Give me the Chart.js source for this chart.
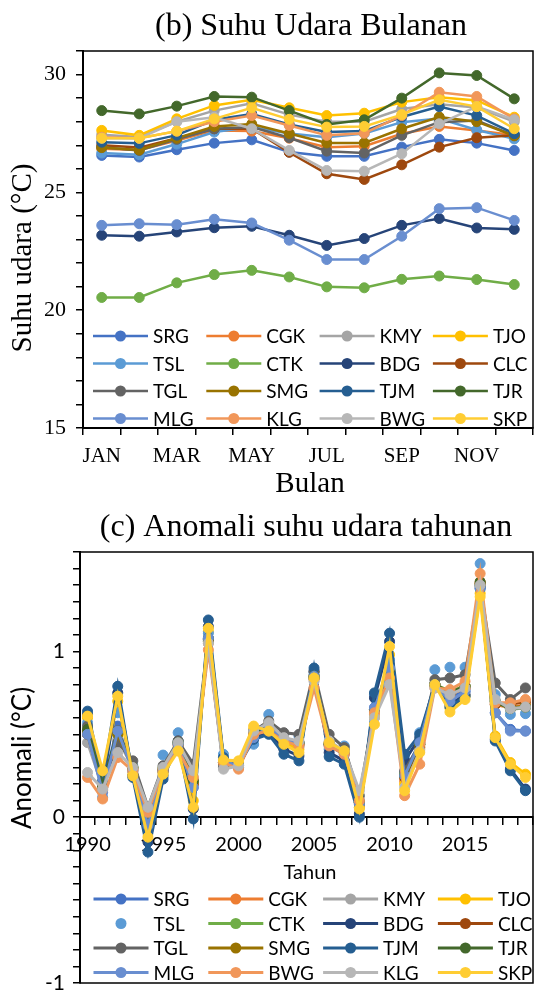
<!DOCTYPE html>
<html>
<head>
<meta charset="utf-8">
<script src="https://cdn.jsdelivr.net/npm/chart.js@4.4.1/dist/chart.umd.min.js"></script>
<style>
  html, body { margin: 0; padding: 0; background: #fff; }
  #wrap { position: relative; width: 539px; height: 990px; }
  .panel { position: absolute; left: 0; width: 539px; }
</style>
</head>
<body>
<div id="wrap">
  <div class="panel" style="top:0;height:500px"><canvas id="monthlyChart"></canvas></div>
  <div class="panel" style="top:500px;height:490px"><canvas id="annualChart"></canvas></div>
</div>
<script>
// station codes and Excel-style colours (series order)
const colors = ['#4472C4', '#ED7D31', '#A5A5A5', '#FFC000', '#5B9BD5', '#70AD47', '#264478', '#9E480E',
                '#636363', '#997300', '#255E91', '#43682B', '#698ED0', '#F1975A', '#B7B7B7', '#FFCD33'];
const stationsB = ['SRG', 'CGK', 'KMY', 'TJO', 'TSL', 'CTK', 'BDG', 'CLC', 'TGL', 'SMG', 'TJM', 'TJR', 'MLG', 'KLG', 'BWG', 'SKP'];
const stationsC = ['SRG', 'CGK', 'KMY', 'TJO', 'TSL', 'CTK', 'BDG', 'CLC', 'TGL', 'SMG', 'TJM', 'TJR', 'MLG', 'BWG', 'KLG', 'SKP'];

// (b) monthly air temperature
const months = ['JAN', 'FEB', 'MAR', 'APR', 'MAY', 'JUN', 'JUL', 'AUG', 'SEP', 'OCT', 'NOV', 'DEC'];
const tempSRG = [26.57, 26.50, 26.81, 27.09, 27.23, 26.71, 26.53, 26.53, 26.92, 27.25, 27.09, 26.78];
const tempCGK = [26.85, 26.80, 27.20, 27.63, 27.60, 27.30, 26.92, 26.96, 27.49, 27.80, 27.63, 27.42];
const tempKMY = [27.45, 27.35, 28.00, 28.47, 28.78, 28.30, 28.00, 28.00, 28.54, 28.74, 28.60, 28.00];
const tempTJO = [27.63, 27.42, 28.12, 28.69, 28.93, 28.59, 28.26, 28.36, 28.83, 29.04, 28.90, 28.19];
const tempTSL = [26.67, 26.60, 27.05, 27.56, 27.77, 27.50, 27.34, 27.50, 27.98, 28.13, 27.65, 27.27];
const tempCTK = [20.54, 20.54, 21.16, 21.51, 21.69, 21.41, 20.99, 20.95, 21.31, 21.45, 21.30, 21.09];
const tempBDG = [23.18, 23.14, 23.32, 23.50, 23.56, 23.18, 22.75, 23.04, 23.60, 23.89, 23.49, 23.43];
const tempCLC = [27.00, 26.90, 27.30, 27.70, 27.70, 26.70, 25.79, 25.55, 26.17, 26.92, 27.32, 27.42];
const tempTGL = [26.92, 26.78, 27.25, 27.70, 27.77, 27.32, 26.75, 26.67, 27.42, 27.98, 28.05, 27.42];
const tempSMG = [26.90, 26.80, 27.30, 27.80, 27.90, 27.50, 27.10, 27.10, 27.70, 28.20, 28.00, 27.40];
const tempTJM = [27.13, 27.08, 27.43, 28.08, 28.33, 27.88, 27.56, 27.60, 28.20, 28.64, 28.26, 27.49];
const tempTJR = [28.47, 28.33, 28.66, 29.07, 29.04, 28.47, 27.88, 28.08, 29.00, 30.07, 29.96, 28.97];
const tempMLG = [23.60, 23.67, 23.63, 23.86, 23.70, 22.97, 22.15, 22.15, 23.14, 24.31, 24.35, 23.81];
const tempKLG = [27.34, 27.30, 27.60, 28.00, 28.26, 27.84, 27.42, 27.51, 28.26, 29.25, 29.07, 28.12];
const tempBWG = [27.30, 27.30, 28.00, 28.19, 27.70, 26.78, 25.93, 25.90, 26.64, 27.91, 28.64, 28.08];
const tempSKP = [27.30, 27.30, 27.60, 28.12, 28.59, 28.10, 27.77, 27.80, 28.30, 28.93, 28.64, 27.70];

// (c) annual anomaly 1990-2019
const years = ['1990', '1991', '1992', '1993', '1994', '1995', '1996', '1997', '1998', '1999',
               '2000', '2001', '2002', '2003', '2004', '2005', '2006', '2007', '2008', '2009',
               '2010', '2011', '2012', '2013', '2014', '2015', '2016', '2017', '2018', '2019'];
const anomSRG = [0.52, 0.18, 0.55, 0.28, -0.05, 0.27, 0.44, 0.18, 1.08, 0.33, 0.31, 0.49, 0.55, 0.45, 0.43, 0.85, 0.43, 0.38, 0.06, 0.66, 0.92, 0.27, 0.45, 0.80, 0.72, 0.76, 1.40, 0.63, 0.53, 0.52];
const anomCGK = [0.50, 0.16, 0.50, 0.29, 0.00, 0.28, 0.43, 0.20, 1.05, 0.32, 0.30, 0.50, 0.54, 0.46, 0.44, 0.83, 0.44, 0.39, 0.08, 0.64, 0.88, 0.22, 0.42, 0.79, 0.74, 0.78, 1.42, 0.68, 0.66, 0.68];
const anomKMY = [0.45, 0.18, 0.47, 0.30, 0.02, 0.29, 0.44, 0.24, 1.06, 0.31, 0.31, 0.51, 0.56, 0.47, 0.45, 0.84, 0.45, 0.40, 0.10, 0.62, 0.85, 0.24, 0.42, 0.80, 0.75, 0.79, 1.41, 0.70, 0.65, 0.66];
const anomTJO = [0.60, 0.26, 0.70, 0.26, -0.08, 0.27, 0.42, 0.10, 1.12, 0.35, 0.33, 0.53, 0.53, 0.45, 0.41, 0.85, 0.44, 0.39, 0.06, 0.60, 0.98, 0.20, 0.41, 0.80, 0.66, 0.73, 1.35, 0.49, 0.33, 0.26];
const anomTSL = [0.57, 0.12, 0.63, 0.31, -0.02, 0.375, 0.51, 0.21, 1.11, 0.38, 0.30, 0.44, 0.62, 0.50, 0.49, 0.87, 0.41, 0.43, 0.10, 0.74, 0.95, 0.35, 0.51, 0.89, 0.905, 0.905, 1.53, 0.74, 0.62, 0.625];
const anomCTK = [0.50, 0.20, 0.50, 0.30, 0.00, 0.30, 0.45, 0.22, 1.06, 0.33, 0.31, 0.50, 0.55, 0.47, 0.45, 0.84, 0.44, 0.40, 0.09, 0.64, 0.88, 0.26, 0.44, 0.80, 0.76, 0.79, 1.40, 0.70, 0.655, 0.665];
const anomBDG = [0.62, 0.20, 0.75, 0.25, -0.15, 0.25, 0.46, 0.05, 1.15, 0.35, 0.31, 0.48, 0.52, 0.41, 0.37, 0.88, 0.39, 0.34, 0.02, 0.72, 1.06, 0.34, 0.48, 0.80, 0.68, 0.74, 1.39, 0.47, 0.29, 0.17];
const anomCLC = [0.50, 0.17, 0.52, 0.29, -0.02, 0.28, 0.44, 0.20, 1.07, 0.33, 0.30, 0.50, 0.55, 0.46, 0.44, 0.84, 0.44, 0.39, 0.08, 0.65, 0.88, 0.24, 0.43, 0.80, 0.74, 0.78, 1.41, 0.68, 0.68, 0.70];
const anomTGL = [0.55, 0.20, 0.45, 0.34, 0.06, 0.31, 0.46, 0.32, 1.07, 0.30, 0.32, 0.52, 0.58, 0.51, 0.50, 0.88, 0.50, 0.42, 0.13, 0.65, 0.86, 0.28, 0.44, 0.83, 0.84, 0.86, 1.40, 0.81, 0.71, 0.78];
const anomSMG = [0.52, 0.19, 0.50, 0.30, 0.01, 0.29, 0.45, 0.22, 1.07, 0.33, 0.31, 0.51, 0.56, 0.47, 0.45, 0.85, 0.45, 0.40, 0.09, 0.65, 0.88, 0.25, 0.44, 0.80, 0.75, 0.79, 1.41, 0.69, 0.66, 0.67];
const anomTJM = [0.64, 0.22, 0.79, 0.24, -0.21, 0.23, 0.45, -0.01, 1.19, 0.36, 0.31, 0.47, 0.50, 0.38, 0.34, 0.90, 0.365, 0.32, 0.00, 0.75, 1.11, 0.38, 0.50, 0.80, 0.665, 0.73, 1.38, 0.46, 0.28, 0.16];
const anomTJR = [0.53, 0.19, 0.52, 0.30, 0.00, 0.29, 0.45, 0.22, 1.08, 0.33, 0.31, 0.50, 0.55, 0.47, 0.45, 0.85, 0.44, 0.40, 0.09, 0.65, 0.89, 0.25, 0.44, 0.80, 0.75, 0.79, 1.42, 0.70, 0.655, 0.665];
const anomMLG = [0.50, 0.15, 0.52, 0.28, -0.05, 0.28, 0.44, 0.18, 1.08, 0.34, 0.31, 0.48, 0.55, 0.47, 0.45, 0.85, 0.44, 0.39, 0.08, 0.66, 0.90, 0.25, 0.45, 0.80, 0.70, 0.76, 1.38, 0.63, 0.52, 0.52];
const anomBWG = [0.24, 0.11, 0.36, 0.28, 0.03, 0.29, 0.40, 0.24, 1.01, 0.33, 0.29, 0.50, 0.52, 0.46, 0.43, 0.78, 0.43, 0.38, 0.10, 0.63, 0.84, 0.13, 0.32, 0.78, 0.77, 0.82, 1.47, 0.69, 0.69, 0.71];
const anomKLG = [0.27, 0.17, 0.39, 0.30, 0.06, 0.30, 0.45, 0.28, 1.05, 0.29, 0.31, 0.52, 0.57, 0.48, 0.46, 0.82, 0.46, 0.40, 0.16, 0.60, 0.80, 0.18, 0.40, 0.78, 0.74, 0.78, 1.40, 0.71, 0.655, 0.665];
const anomSKP = [0.61, 0.28, 0.73, 0.25, -0.12, 0.26, 0.40, 0.06, 1.14, 0.345, 0.34, 0.55, 0.52, 0.44, 0.39, 0.84, 0.45, 0.40, 0.05, 0.56, 1.03, 0.16, 0.39, 0.80, 0.635, 0.71, 1.33, 0.48, 0.32, 0.24];

const seriesB = [tempSRG, tempCGK, tempKMY, tempTJO, tempTSL, tempCTK, tempBDG, tempCLC,
                 tempTGL, tempSMG, tempTJM, tempTJR, tempMLG, tempKLG, tempBWG, tempSKP];
const seriesC = [anomSRG, anomCGK, anomKMY, anomTJO, anomTSL, anomCTK, anomBDG, anomCLC,
                 anomTGL, anomSMG, anomTJM, anomTJR, anomMLG, anomBWG, anomKLG, anomSKP];

const SERIF = '"Liberation Serif", "Times New Roman", serif';
const SANS = 'Lato, "Liberation Sans", sans-serif';

// titles, plot border and the in-plot legend grid
const framePlugin = {
    id: 'frame',
    afterDraw(chart, args, o) {
        const { ctx, chartArea: a } = chart;
        ctx.save();
        ctx.strokeStyle = '#000';
        ctx.lineWidth = 1.5;
        ctx.strokeRect(a.left, a.top, a.right - a.left, a.bottom - a.top);

        ctx.fillStyle = '#000';
        ctx.textAlign = 'center';
        ctx.textBaseline = 'middle';
        ctx.font = o.titleFont;
        ctx.fillText(o.title, o.titleX, o.titleY);
        ctx.font = o.xTitleFont;
        ctx.fillText(o.xTitle, o.xTitleX, o.xTitleY);
        ctx.save();
        ctx.translate(o.yTitleX, o.yTitleY);
        ctx.rotate(-Math.PI / 2);
        ctx.font = o.yTitleFont;
        ctx.fillText(o.yTitle, 0, 0);
        ctx.restore();

        ctx.font = o.legendFont;
        ctx.textAlign = 'left';
        chart.data.datasets.forEach((ds, i) => {
            const x = o.legendX + (i % 4) * o.legendDX;
            const y = o.legendY + Math.floor(i / 4) * o.legendDY;
            if (ds.showLine !== false) {
                ctx.strokeStyle = ds.borderColor;
                ctx.lineWidth = ds.borderWidth;
                ctx.beginPath();
                ctx.moveTo(x, y);
                ctx.lineTo(x + 55, y);
                ctx.stroke();
            }
            ctx.fillStyle = ds.pointBackgroundColor;
            ctx.beginPath();
            ctx.arc(x + 27.5, y, 5.5, 0, Math.PI * 2);
            ctx.fill();
            ctx.fillStyle = '#000';
            ctx.fillText(ds.label, x + 60, y + 1);
        });
        ctx.restore();
    }
};

function makeDatasets(names, series, lineWidth, noLine) {
    return series.map((data, i) => ({
        label: names[i],
        data,
        borderColor: colors[i],
        backgroundColor: colors[i],
        pointBackgroundColor: colors[i],
        pointBorderColor: colors[i],
        borderWidth: lineWidth,
        pointRadius: 5,
        pointBorderWidth: 1,
        showLine: names[i] !== noLine,
        order: series.length - i
    }));
}

const axisGrid = { drawOnChartArea: false, drawTicks: true, tickLength: 7, color: '#000', lineWidth: 1.5 };

new Chart(document.getElementById('monthlyChart'), {
    type: 'line',
    data: { labels: months, datasets: makeDatasets(stationsB, seriesB, 2.5, null) },
    plugins: [framePlugin],
    options: {
        responsive: true,
        maintainAspectRatio: false,
        animation: false,
        devicePixelRatio: 1,
        layout: { padding: { top: 51, left: 0, right: 1, bottom: 0 } },
        scales: {
            x: {
                offset: true,
                grid: { ...axisGrid, offset: true },
                border: { display: true, color: '#000', width: 2 },
                ticks: {
                    autoSkip: false, maxRotation: 0, padding: 9, color: '#000',
                    font: { family: SERIF, size: 21 },
                    callback: (v, i) => (i % 2 === 0 ? months[i] : '')
                },
                afterFit: s => { s.height = 72; }
            },
            y: {
                min: 15, max: 31,
                grid: axisGrid,
                border: { display: true, color: '#000', width: 2 },
                ticks: {
                    stepSize: 1, autoSkip: false, padding: 10, color: '#000',
                    font: { family: SERIF, size: 22 },
                    callback: v => (v % 5 === 0 ? v : '')
                },
                afterFit: s => { s.width = 83; }
            }
        },
        plugins: {
            legend: { display: false },
            tooltip: { enabled: false },
            frame: {
                title: '(b) Suhu Udara Bulanan', titleFont: '32px ' + SERIF, titleX: 311, titleY: 27,
                xTitle: 'Bulan', xTitleFont: '29px ' + SERIF, xTitleX: 310, xTitleY: 484,
                yTitle: 'Suhu udara (\u00B0C)', yTitleFont: '29px ' + SERIF, yTitleX: 23, yTitleY: 258,
                legendFont: '19px ' + SANS, legendX: 93, legendY: 336, legendDX: 113.3, legendDY: 27.5
            }
        }
    }
});

new Chart(document.getElementById('annualChart'), {
    type: 'line',
    data: { labels: years, datasets: makeDatasets(stationsC, seriesC, 3, 'TSL') },
    plugins: [framePlugin],
    options: {
        responsive: true,
        maintainAspectRatio: false,
        animation: false,
        devicePixelRatio: 1,
        layout: { padding: { top: 52, left: 0, right: 0, bottom: 7 } },
        scales: {
            x: {
                position: { y: 0 },
                offset: true,
                grid: { ...axisGrid, offset: true },
                border: { display: true, color: '#000', width: 2 },
                ticks: {
                    autoSkip: false, maxRotation: 0, padding: 8, color: '#000',
                    font: { family: SANS, size: 20 },
                    callback: (v, i) => (i % 5 === 0 ? years[i] : '')
                },
                afterFit: s => { s.height = 0; s.paddingLeft = 0; s.paddingRight = 0; }
            },
            y: {
                min: -1, max: 1.6,
                grid: axisGrid,
                border: { display: true, color: '#000', width: 2 },
                ticks: {
                    stepSize: 0.1, autoSkip: false, padding: 8, color: '#000',
                    font: { family: SANS, size: 21 },
                    callback: v => (Math.abs(v - Math.round(v)) < 1e-6 ? String(Math.round(v)) : '')
                },
                afterFit: s => { s.width = 80; s.paddingTop = 0; s.paddingBottom = 0; }
            }
        },
        plugins: {
            legend: { display: false },
            tooltip: { enabled: false },
            frame: {
                title: '(c) Anomali suhu udara tahunan', titleFont: '32px ' + SERIF, titleX: 306, titleY: 28,
                xTitle: 'Tahun', xTitleFont: '20px ' + SANS, xTitleX: 310, xTitleY: 373,
                yTitle: 'Anomali (\u00B0C)', yTitleFont: '26px ' + SANS, yTitleX: 23, yTitleY: 258,
                legendFont: '19px ' + SANS, legendX: 93.5, legendY: 399, legendDX: 114.8, legendDY: 24.5
            }
        }
    }
});
</script>
</body>
</html>
